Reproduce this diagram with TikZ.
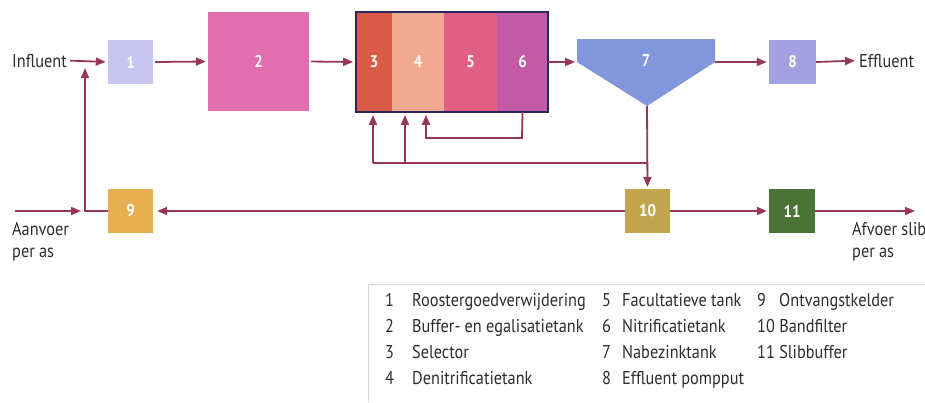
\documentclass[tikz,border=0pt]{standalone}
\usepackage{fontspec}
\setmainfont{PT Sans}[FakeStretch=0.88]
\usetikzlibrary{arrows.meta}
\definecolor{arr}{RGB}{150,55,90}
\definecolor{txt}{RGB}{45,45,50}
\definecolor{navy}{RGB}{40,40,95}
\definecolor{cA}{RGB}{200,198,240}
\definecolor{cB}{RGB}{225,110,175}
\definecolor{cC}{RGB}{218,92,70}
\definecolor{cD}{RGB}{240,170,145}
\definecolor{cE}{RGB}{225,95,130}
\definecolor{cF}{RGB}{195,90,165}
\definecolor{cG}{RGB}{130,150,220}
\definecolor{cH}{RGB}{165,160,225}
\definecolor{cI}{RGB}{232,175,80}
\definecolor{cJ}{RGB}{195,165,80}
\definecolor{cK}{RGB}{75,115,55}
\definecolor{legline}{RGB}{215,215,215}
\begin{document}
\begin{tikzpicture}[x=1pt,y=-1pt,
  flow/.style={draw=arr, line width=1.8pt, -{Triangle[length=10pt,width=8pt]}, shorten >=2pt},
  plain/.style={draw=arr, line width=1.8pt},
  box/.style={inner sep=0pt, text=white, font=\fontsize{17}{17}\selectfont\bfseries},
  lbl/.style={text=txt, font=\fontsize{18.5}{22}\selectfont, inner sep=0pt},
]
\useasboundingbox (0,0) rectangle (925,402);
\fill[white] (0,0) rectangle (925,402);

% top row
\node[box, fill=cA, minimum width=45pt, minimum height=44pt] (b1) at (130.5,62) {1};
\node[box, fill=cB, minimum width=101pt, minimum height=99pt] (b2) at (258.5,61.5) {2};
\node[box, fill=cC, minimum width=36pt, minimum height=100pt] (s3) at (374,62) {3};
\node[box, fill=cD, minimum width=52pt, minimum height=100pt] (s4) at (418,62) {4};
\node[box, fill=cE, minimum width=53pt, minimum height=100pt] (s5) at (470.5,62) {5};
\node[box, fill=cF, minimum width=51pt, minimum height=100pt] (s6) at (522.5,62) {6};
\node[draw=navy, line width=1.8pt, minimum width=192pt, minimum height=100pt, inner sep=0pt] (grp) at (452,62) {};
\fill[cG] (577,39) -- (715,39) -- (715,62) -- (647,106) -- (577,62) -- cycle;
\node[box] (b7) at (646,61) {7};
\coordinate (b7w) at (577,62);
\coordinate (b7e) at (715,62);
\coordinate (b7s) at (647,106);
\node[box, fill=cH, minimum width=47pt, minimum height=44pt] (b8) at (792.5,62) {8};

% bottom row
\node[box, fill=cI, minimum width=45pt, minimum height=44pt] (b9) at (130.5,211) {9};
\node[box, fill=cJ, minimum width=45pt, minimum height=44pt] (b10) at (647.5,211) {10};
\node[box, fill=cK, minimum width=46pt, minimum height=44pt] (b11) at (792,211) {11};

% labels
\node[lbl, anchor=base east] (inf) at (67,67) {Influent};
\node[lbl, anchor=base west] (eff) at (859,67) {Effluent};
\node[lbl, anchor=north west, align=left] (aan) at (12,222) {Aanvoer\\per as};
\node[lbl, anchor=north west, align=left] (afv) at (852,222) {Afvoer slib\\per as};

% coordinates
\coordinate (inl) at (85,61);
\coordinate (c9) at (85,211);
\coordinate (aa) at (15,211);
\coordinate (ao) at (915,211);
\coordinate (j1) at (647,163);
\coordinate (r3) at (373,163);
\coordinate (r4) at (405,163);
\coordinate (l1) at (522,138);
\coordinate (l2) at (426,138);

% connectors
\draw[flow, shorten <=3pt] (inf.east) -- (b1.west);
\draw[flow, shorten <=2pt] (b1.east) -- (b2.west);
\draw[flow, shorten <=2pt] (b2.east) -- (grp.west);
\draw[flow] (s6.east) -- (b7w);
\draw[flow] (b7e) -- (b8.west);
\draw[flow, shorten >=4pt] (b8.east) -- (eff.west);
\draw[flow] (b7s) -- (b10.north);
\draw[plain] (j1) -- (r3);
\draw[flow] (r3) -- (r3 |- grp.south);
\draw[flow] (r4) -- (r4 |- grp.south);
\draw[flow] (s6.south) -- (l1) -- (l2) -- (l2 |- grp.south);
\draw[flow, shorten >=4pt] (b10.west) -- (b9.east);
\draw[flow, shorten >=7pt] (b9.west) -- (c9) -- (inl);
\draw[flow, shorten >=4pt] (aa) -- (c9);
\draw[flow, shorten <=0pt] (b10.east) -- (b11.west);
\draw[flow, shorten >=0pt] (b11.east) -- (ao);

% legend
\draw[legline, line width=1pt] (925,284) -- (368,284) -- (368,402);
\begin{scope}[every node/.style={lbl, anchor=base west}]
\node (n1) at (385,306) {1}; \node (t1) at (412,306) {Roostergoedverwijdering};
\node (n2) at (385,332) {2}; \node (t2) at (412,332) {Buffer- en egalisatietank};
\node (n3) at (385,358) {3}; \node (t3) at (412,358) {Selector};
\node (n4) at (385,384) {4}; \node (t4) at (412,384) {Denitrificatietank};
\node (n5) at (602,306) {5}; \node (t5) at (622,306) {Facultatieve tank};
\node (n6) at (602,332) {6}; \node (t6) at (622,332) {Nitrificatietank};
\node (n7) at (602,358) {7}; \node (t7) at (622,358) {Nabezinktank};
\node (n8) at (602,384) {8}; \node (t8) at (622,384) {Effluent pompput};
\node (n9) at (757,306) {9}; \node (t9) at (779,306) {Ontvangstkelder};
\node (t10) at (757,332) {10 Bandfilter};
\node (t11) at (757,358) {11 Slibbuffer};
\end{scope}
\end{tikzpicture}
\end{document}
